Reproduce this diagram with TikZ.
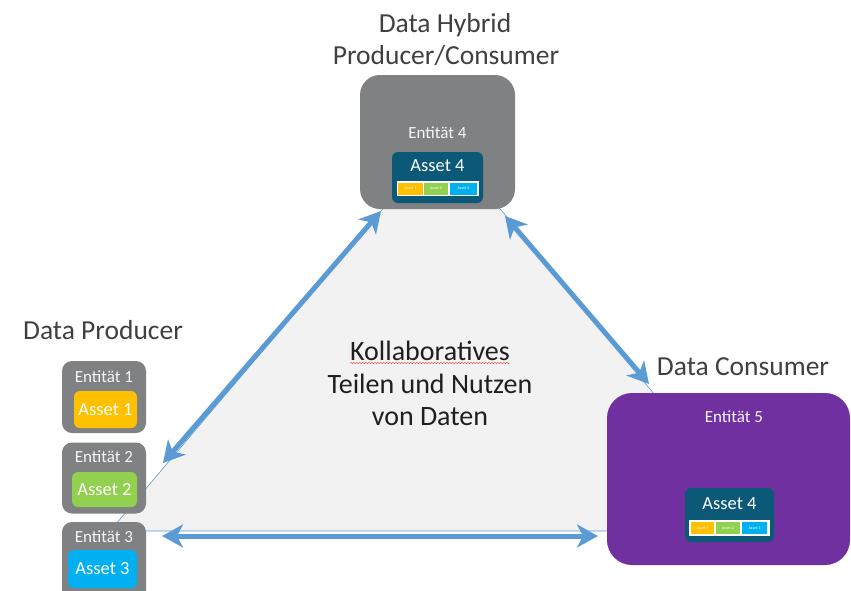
\documentclass[tikz,border=0pt]{standalone}
\usepackage{fontspec}
\setmainfont{Carlito}
\usetikzlibrary{arrows.meta,decorations.pathmorphing}
\definecolor{boxgray}{HTML}{7F8182}
\definecolor{purp}{HTML}{7030A0}
\definecolor{assetteal}{HTML}{0B5877}
\definecolor{ayellow}{HTML}{FFC000}
\definecolor{agreen}{HTML}{92D050}
\definecolor{ablue}{HTML}{00B0F0}
\definecolor{arrblue}{HTML}{5B9BD5}
\definecolor{trifill}{HTML}{F2F2F2}
\definecolor{lbl}{HTML}{404040}
\tikzset{
  ent/.style={fill=boxgray, draw=none, inner sep=0pt},
  enttext/.style={text=white!92!gray, font=\fontsize{17}{20}\selectfont, inner sep=0pt},
  assettext/.style={text=white, font=\fontsize{18.5}{22}\selectfont, inner sep=0pt},
  tinybox/.style={draw=none, inner sep=0pt, minimum height=12pt, text=white, font=\fontsize{4}{4.5}\selectfont},
  biglabel/.style={text=lbl, font=\fontsize{27.5}{32}\selectfont, inner sep=0pt, anchor=base},
  centertext/.style={text=black!88, font=\fontsize{28}{33}\selectfont, inner sep=0pt, anchor=base},
  dbl/.style={draw=arrblue, line width=5pt,
    {Stealth[length=21pt,width=23pt,inset=6pt]}-{Stealth[length=21pt,width=23pt,inset=6pt]}},
}
\begin{document}
\begin{tikzpicture}[x=1pt,y=-1pt]
\useasboundingbox (0,0) rectangle (851,590);
\clip (0,0) rectangle (851,590);
\fill[white] (0,0) rectangle (851,590);

% triangle
\coordinate (tA) at (442,139);
\coordinate (tB) at (110,531);
\coordinate (tC) at (768,531);
\filldraw[fill=trifill, draw=arrblue, line width=0.6pt] (tA) -- (tB) -- (tC) -- cycle;

% labels
\node[biglabel] (lh1) at (445,32) {Data Hybrid};
\node[biglabel] (lh2) at (446,64) {Producer/Consumer};
\node[biglabel] (lp) at (103,339) {Data Producer};
\node[biglabel] (lc) at (743,375) {Data Consumer};

% center text
\node[centertext] (k1) at (430,360) {Kollaboratives};
\node[centertext] (k2) at (430,393) {Teilen und Nutzen};
\node[centertext] (k3) at (430,425) {von Daten};
\draw[red!75, line width=0.45pt, decorate, decoration={snake, amplitude=0.6pt, segment length=3pt}]
  ([yshift=-3pt]k1.base west) -- ([yshift=-3pt]k1.base east);

% Entity 4
\node[ent, rounded corners=20pt, minimum width=155pt, minimum height=134pt] (e4) at (437.5,142) {};
\node[enttext] (e4t) at (437.5,133) {Entität 4};
\node[fill=assetteal, rounded corners=6pt, minimum width=91pt, minimum height=51pt, inner sep=0pt] (a4) at (437.5,177.5) {};
\node[assettext] (a4t) at (437.5,166) {Asset 4};
\node[fill=white, inner sep=0pt, minimum width=82pt, minimum height=15pt] (a4s) at (437.5,188.5) {};
\node[tinybox, fill=ayellow, minimum width=25pt] (a4y) at (410.5,188.5) {Asset 1};
\node[tinybox, fill=agreen, minimum width=24pt] (a4g) at (436,188.5) {Asset 2};
\node[tinybox, fill=ablue, minimum width=27pt] (a4b) at (463.5,188.5) {Asset 3};

% Entity 5
\node[fill=purp, rounded corners=25pt, minimum width=243pt, minimum height=172pt, inner sep=0pt] (e5) at (728.5,479) {};
\node[enttext] (e5t) at (734,417) {Entität 5};
\node[fill=assetteal, rounded corners=6pt, minimum width=89pt, minimum height=54pt, inner sep=0pt] (a5) at (729.5,515) {};
\node[assettext] (a5t) at (729.5,504) {Asset 4};
\node[fill=white, inner sep=0pt, minimum width=81pt, minimum height=16pt] (a5s) at (729,528) {};
\node[tinybox, fill=ayellow, minimum width=23pt] (a5y) at (702.5,528) {Asset 1};
\node[tinybox, fill=agreen, minimum width=24pt] (a5g) at (728,528) {Asset 2};
\node[tinybox, fill=ablue, minimum width=25pt] (a5b) at (754.5,528) {Asset 3};

% Entities 1-3
\node[ent, rounded corners=10pt, minimum width=84pt, minimum height=72pt] (e1) at (104,397) {};
\node[enttext] (e1t) at (104,377) {Entität 1};
\node[fill=ayellow, rounded corners=6pt, minimum width=63pt, minimum height=37pt, inner sep=0pt] (a1) at (105.5,409.5) {};
\node[assettext] (a1t) at (105.5,409.5) {Asset 1};

\node[ent, rounded corners=10pt, minimum width=84pt, minimum height=71pt] (e2) at (104,478) {};
\node[enttext] (e2t) at (104,457) {Entität 2};
\node[fill=agreen, rounded corners=6pt, minimum width=65pt, minimum height=35pt, inner sep=0pt] (a2) at (104.5,489.5) {};
\node[assettext] (a2t) at (104.5,489.5) {Asset 2};

\node[ent, rounded corners=10pt, minimum width=84pt, minimum height=80pt] (e3) at (104,562) {};
\node[enttext] (e3t) at (104,537) {Entität 3};
\node[fill=ablue, rounded corners=6pt, minimum width=69pt, minimum height=38pt, inner sep=0pt] (a3) at (102.5,569) {};
\node[assettext] (a3t) at (102.5,569) {Asset 3};

% arrows
\coordinate (pL1) at (163,463);
\coordinate (pL2) at (381,211);
\coordinate (pR1) at (505,216);
\coordinate (pR2) at (649,384);
\coordinate (pB1) at (162,536);
\coordinate (pB2) at (598,536);
\draw[dbl] (pL1) -- (pL2);
\draw[dbl] (pR1) -- (pR2);
\draw[dbl] (pB1) -- (pB2);
\end{tikzpicture}
\end{document}
